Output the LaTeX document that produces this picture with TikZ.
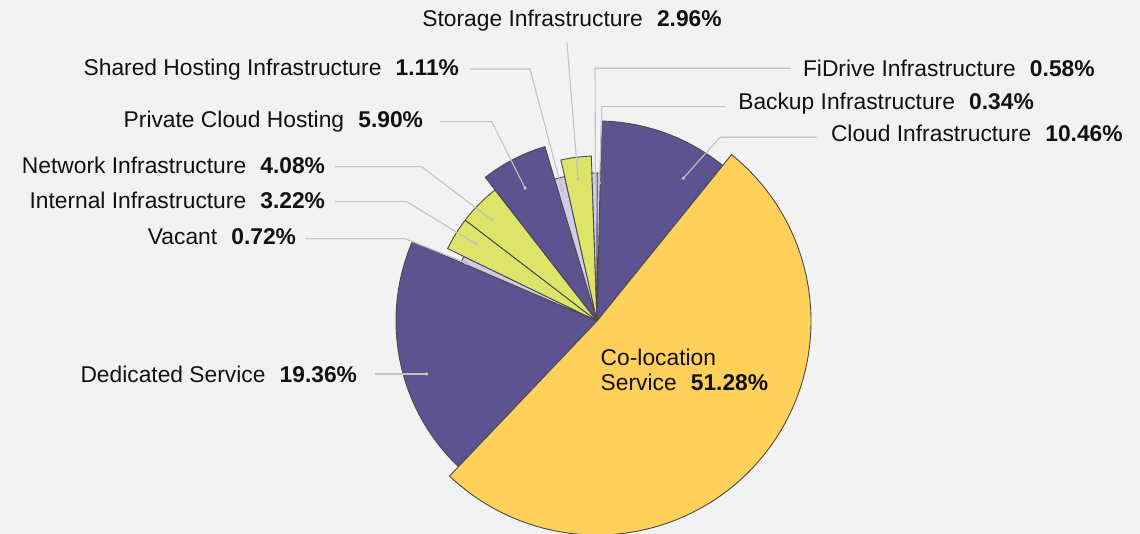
\documentclass[tikz,border=0pt]{standalone}
\usepackage{fontspec}
\setmainfont{Liberation Sans}
\definecolor{bgc}{HTML}{F2F2F2}
\definecolor{purp}{HTML}{5E5391}
\definecolor{yell}{HTML}{FFD05A}
\definecolor{lime}{HTML}{DEE36A}
\definecolor{lav}{HTML}{D0CAE6}
\definecolor{edgec}{HTML}{4A4A4A}
\definecolor{leadc}{HTML}{C2C2C2}
\definecolor{txtc}{HTML}{111111}
\newcommand\pieslice[4]{\filldraw[slicestyle, fill=#4] (C) -- ++(#1:#3) arc[start angle=#1, end angle=#2, radius=#3] -- cycle;}
\newcommand\pct[1]{\hspace{0.62em}\textbf{#1}}
\begin{document}
\begin{tikzpicture}[x=1pt,y=1pt,
  slicestyle/.style={draw=edgec, line width=0.9pt, line join=miter},
  lab/.style={inner sep=0pt, outer sep=0pt, text=txtc, font=\fontsize{22.8}{25}\selectfont},
  leader/.style={draw=leadc, line width=1.1pt},
  dotc/.style={fill=leadc}]
\useasboundingbox (0,0) rectangle (1140,534);
\fill[bgc] (0,0) rectangle (1140,534);
\coordinate (C) at (597,213);
% slices
\pieslice{88.7}{51.044}{200}{purp}
\pieslice{-133.564}{-203.26}{201}{purp}
\pieslice{-203.26}{-205.852}{148}{lav}
\pieslice{-205.852}{-217.444}{166}{lime}
\pieslice{-217.444}{-232.132}{166}{lime}
\pieslice{-232.132}{-253.372}{182}{purp}
\pieslice{-253.372}{-257.368}{148}{lav}
\pieslice{-257.368}{-268.024}{165}{lime}
\pieslice{-268.024}{-270.112}{148}{lav}
\pieslice{-270.112}{-271.3}{148}{lav}
\pieslice{51.044}{-133.564}{214}{yell}
% labels
\node[lab, anchor=base] (storage) at (572,507.3) {Storage Infrastructure\pct{2.96\%}};
\node[lab, anchor=base east] (shared) at (459,458) {Shared Hosting Infrastructure\pct{1.11\%}};
\node[lab, anchor=base east] (private) at (423,406.7) {Private Cloud Hosting\pct{5.90\%}};
\node[lab, anchor=base east] (network) at (325,360.7) {Network Infrastructure\pct{4.08\%}};
\node[lab, anchor=base east] (internal) at (325,325.7) {Internal Infrastructure\pct{3.22\%}};
\node[lab, anchor=base east] (vacant) at (296,289) {Vacant\pct{0.72\%}};
\node[lab, anchor=base east] (dedicated) at (357,151.7) {Dedicated Service\pct{19.36\%}};
\node[lab, anchor=base west] (fidrive) at (803,457.3) {FiDrive Infrastructure\pct{0.58\%}};
\node[lab, anchor=base west] (backup) at (738.3,424) {Backup Infrastructure\pct{0.34\%}};
\node[lab, anchor=base west] (cloud) at (831,392.3) {Cloud Infrastructure\pct{10.46\%}};
\node[lab, anchor=base west] (coloc1) at (600.7,168.3) {Co-location};
\node[lab, anchor=base west] (coloc2) at (600.7,143.3) {Service\pct{51.28\%}};
% leader coordinates
\coordinate (stA) at (567,491);   \coordinate (stD) at (578,355);
\coordinate (shA) at (470,465);   \coordinate (shB) at (530,465);   \coordinate (shD) at (562,344);
\coordinate (prA) at (440,412.3); \coordinate (prB) at (491.7,412.3); \coordinate (prD) at (525,346);
\coordinate (neA) at (335,367.3); \coordinate (neB) at (421.7,367.3); \coordinate (neD) at (491.7,314);
\coordinate (inA) at (335,332.3); \coordinate (inB) at (406.7,332.3); \coordinate (inD) at (476,290);
\coordinate (vaA) at (305,295.3); \coordinate (vaB) at (405,295.3); \coordinate (vaD) at (466,271);
\coordinate (deA) at (375,160);   \coordinate (deD) at (426.7,160);
\coordinate (fiA) at (790,465.7); \coordinate (fiB) at (595,465.7); \coordinate (fiD) at (595.5,351);
\coordinate (baA) at (725,427.3); \coordinate (baB) at (602,427.3); \coordinate (baD) at (599.5,351);
\coordinate (clA) at (816.7,396.7); \coordinate (clB) at (720,396.7); \coordinate (clD) at (683.3,355.7);
% leaders
\draw[leader] (stA) -- (stD);
\draw[leader] (shA) -- (shB) -- (shD);
\draw[leader] (prA) -- (prB) -- (prD);
\draw[leader] (neA) -- (neB) -- (neD);
\draw[leader] (inA) -- (inB) -- (inD);
\draw[leader] (vaA) -- (vaB) -- (vaD);
\draw[leader] (deA) -- (deD);
\draw[leader] (fiA) -- (fiB) -- (fiD);
\draw[leader] (baA) -- (baB) -- (baD);
\draw[leader] (clA) -- (clB) -- (clD);
\foreach \d in {stD,shD,prD,neD,inD,vaD,deD,fiD,baD,clD} \fill[dotc] (\d) circle (1.8);
\end{tikzpicture}
\end{document}
